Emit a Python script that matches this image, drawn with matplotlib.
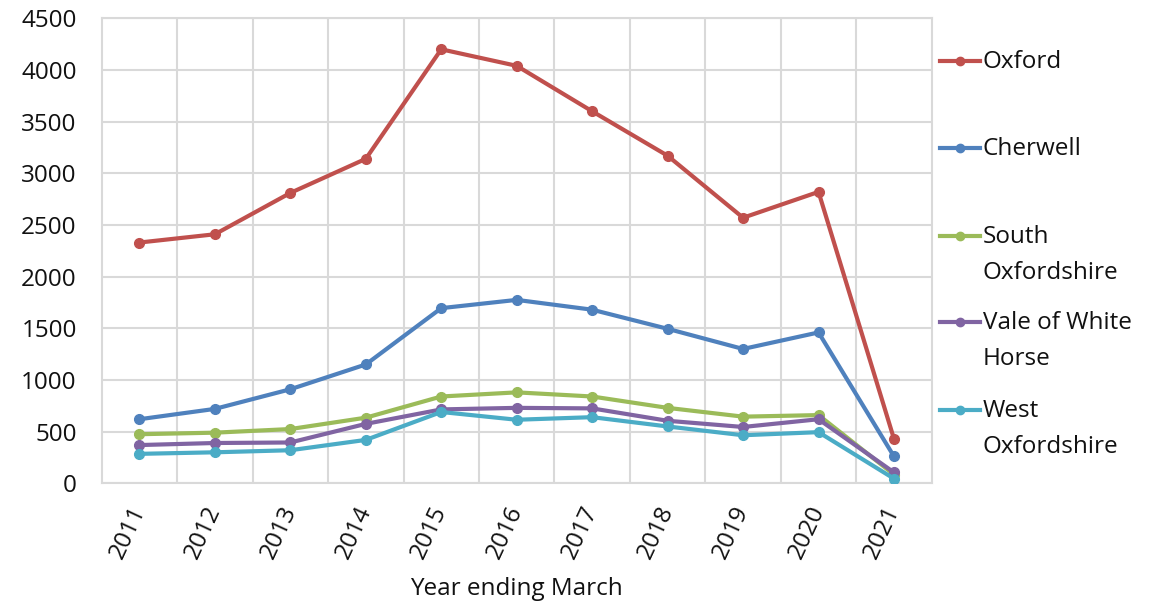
import matplotlib.pyplot as plt
from matplotlib.lines import Line2D

plt.rcParams['font.family'] = ['Open Sans', 'DejaVu Sans']

years = ['2011', '2012', '2013', '2014', '2015', '2016',
         '2017', '2018', '2019', '2020', '2021']

oxford = [2330, 2410, 2810, 3140, 4200, 4040, 3600, 3170, 2570, 2820, 430]
cherwell = [620, 720, 910, 1150, 1695, 1775, 1680, 1495, 1300, 1460, 260]
south_oxon = [475, 490, 525, 635, 840, 880, 840, 730, 645, 660, 85]
vale_wh = [370, 390, 395, 575, 715, 730, 725, 605, 545, 620, 105]
west_oxon = [285, 300, 320, 420, 690, 615, 640, 550, 465, 495, 45]

names = ['Oxford', 'Cherwell', 'South\nOxfordshire',
         'Vale of White\nHorse', 'West\nOxfordshire']
series = [oxford, cherwell, south_oxon, vale_wh, west_oxon]
colors = ['#C0504D', '#4F81BD', '#9BBB59', '#8064A2', '#4BACC6']

W, H = 1174, 606
FS = 17.5
fig = plt.figure(figsize=(W / 100, H / 100), dpi=100)
ax = fig.add_axes([101.7 / W, 1 - 483.3 / H, 830 / W, 465 / H])

x = list(range(len(years)))
for vals, col in zip(series, colors):
    ax.plot(x, vals, color=col, linewidth=3, marker='o',
            markersize=7, zorder=3)

# value axis
ax.set_ylim(0, 4500)
ax.set_yticks(range(0, 4501, 500))
ax.tick_params(axis='y', length=0, pad=18, labelsize=FS, labelcolor='#111111')
ax.grid(axis='y', color='#D9D9D9', linewidth=1.5)

# category axis: gridlines sit between the categories
ax.set_xlim(-0.5, len(years) - 0.5)
ax.set_xticks(x)
ax.set_xticklabels(years, rotation=65, ha='right', va='center',
                   rotation_mode='anchor', fontsize=FS, color='#111111')
ax.tick_params(axis='x', length=0, pad=17)
ax.set_xticks([i + 0.5 for i in x[:-1]], minor=True)
ax.tick_params(axis='x', which='minor', length=0)
ax.grid(axis='x', which='minor', color='#D9D9D9', linewidth=1.5)
ax.set_axisbelow(True)

for side in ['left', 'right', 'top', 'bottom']:
    ax.spines[side].set_color('#D9D9D9')
    ax.spines[side].set_linewidth(1.5)

fig.text(516.7 / W, 1 - 589 / H, 'Year ending March',
         ha='center', va='center', fontsize=FS, color='#111111')

# legend drawn by hand so that wrapped names keep the key on the first line
legend_rows = [61, 148, 236, 322, 410]
for name, col, row in zip(names, colors, legend_rows):
    yk = 1 - row / H
    fig.add_artist(Line2D([940 / W, 980 / W], [yk, yk], color=col,
                          linewidth=3, transform=fig.transFigure))
    fig.add_artist(Line2D([960 / W], [yk], color=col, marker='o',
                          markersize=6, transform=fig.transFigure))
    for k, line in enumerate(name.split('\n')):
        fig.text(983 / W, 1 - (row + 36 * k + 1) / H, line,
                 ha='left', va='center', fontsize=FS, color='#111111')

fig.savefig('out.png', dpi=100)
